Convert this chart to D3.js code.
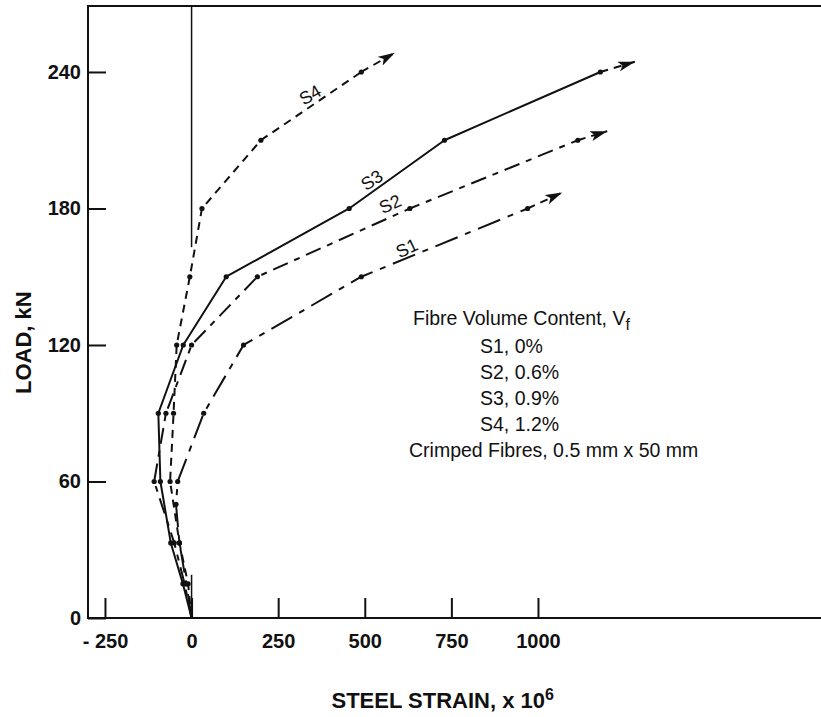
<!DOCTYPE html>
<html>
<head>
<meta charset="utf-8">
<script src="https://cdn.jsdelivr.net/npm/d3@7"></script>
<style>
  body { margin: 0; background: #fff; }
  text { font-family: "Liberation Sans", Arial, sans-serif; fill: #111; }
  .tick text { font-family: "Liberation Sans Narrow", "Liberation Sans", Arial, sans-serif; font-weight: bold; font-size: 20px; }
  .axis-title { font-family: "Liberation Sans Narrow", "Liberation Sans", Arial, sans-serif; font-weight: bold; font-size: 22px; }
  .note { font-size: 19.5px; }
  .series-label { font-size: 18px; }
</style>
</head>
<body>
<svg id="chart"></svg>
<script>
// load vs steel strain
var s1Strain = [0, -15, -35, -45, -40, 35, 150, 490, 970];
var s1Load   = [0, 15, 33, 50, 60, 90, 120, 150, 180];
var s1Tip    = [1070, 187];

var s2Strain = [0, -20, -50, -108, -74, 0, 190, 630, 1115];
var s2Load   = [0, 15, 33, 60, 90, 120, 150, 180, 210];
var s2Tip    = [1200, 214];

var s3Strain = [0, -25, -60, -90, -96, -24, 100, 455, 730, 1180];
var s3Load   = [0, 15, 33, 60, 90, 120, 150, 180, 210, 240];
var s3Tip    = [1280, 244.5];

var s4Strain = [0, -10, -35, -62, -52, -43, -5, 30, 200, 490];
var s4Load   = [0, 15, 33, 60, 90, 120, 150, 180, 210, 240];
var s4Tip    = [587, 248.5];

// the zero strain reference line (drawn in two pieces)
var refUpperLoad = [163, 269];
var refLowerLoad = [0, 19];

var xTicks = [-250, 0, 250, 500, 750, 1000];
var xTickLabels = ['- 250', '0', '250', '500', '750', '1000'];
var yTicks = [0, 60, 120, 180, 240];

var noteLines = ['S1, 0%', 'S2, 0.6%', 'S3, 0.9%', 'S4, 1.2%'];

// layout
var margin = {top: 6, right: 0, bottom: 99, left: 88};
var width = 821 - margin.left - margin.right;
var height = 717 - margin.top - margin.bottom;

var x = d3.scaleLinear().domain([-299, 1817]).range([0, width]);
var y = d3.scaleLinear().domain([0, 269]).range([height, 0]);

var root = d3.select('#chart')
  .attr('width', 821)
  .attr('height', 717);

var svg = root.append('g')
  .attr('transform', 'translate(' + margin.left + ',' + margin.top + ')');

// arrow head
root.append('defs').append('marker')
  .attr('id', 'arrow')
  .attr('markerUnits', 'userSpaceOnUse')
  .attr('markerWidth', 20)
  .attr('markerHeight', 12)
  .attr('refX', 17)
  .attr('refY', 5)
  .attr('orient', 'auto')
  .append('path')
  .attr('d', 'M0,0 L17,5 L0,10 L4,5 Z')
  .style('fill', '#111');

// frame: left, top, bottom
svg.append('path')
  .attr('d', 'M' + width + ',0 H0 V' + height + ' H' + width)
  .style('fill', 'none')
  .style('stroke', '#111')
  .style('stroke-width', 2);

// axes
var xAxis = svg.append('g')
  .attr('transform', 'translate(0,' + height + ')')
  .call(d3.axisBottom(x)
    .tickValues(xTicks)
    .tickFormat(function(d, i) { return xTickLabels[i]; })
    .tickSizeInner(-20)
    .tickSizeOuter(0)
    .tickPadding(16));
var yAxis = svg.append('g')
  .call(d3.axisLeft(y)
    .tickValues(yTicks)
    .tickSizeInner(-18)
    .tickSizeOuter(0)
    .tickPadding(7));
[xAxis, yAxis].forEach(function(a) {
  a.select('.domain').remove();
  a.selectAll('.tick line').style('stroke', '#111').style('stroke-width', 2);
  a.selectAll('.tick text').style('fill', '#111');
  a.attr('font-family', null).attr('font-size', null);
});

// axis titles
svg.append('text')
  .attr('class', 'axis-title')
  .attr('transform', 'translate(-57,' + y(121) + ') rotate(-90)')
  .attr('text-anchor', 'middle')
  .text('LOAD, kN');
var xt = svg.append('text')
  .attr('class', 'axis-title')
  .attr('x', x(725))
  .attr('y', height + 90)
  .attr('text-anchor', 'middle');
xt.append('tspan').text('STEEL STRAIN, x 10');
xt.append('tspan').attr('dy', -8).style('font-size', '16px').text('6');

// zero strain reference
[refUpperLoad, refLowerLoad].forEach(function(r) {
  svg.append('line')
    .attr('x1', x(0)).attr('x2', x(0))
    .attr('y1', y(r[0])).attr('y2', y(r[1]))
    .style('stroke', '#111')
    .style('stroke-width', 1.5);
});

// series
var series = [
  {strain: s1Strain, load: s1Load, tip: s1Tip, dash: '24,8,6,8'},
  {strain: s2Strain, load: s2Load, tip: s2Tip, dash: '16,7,6,7'},
  {strain: s3Strain, load: s3Load, tip: s3Tip, dash: null},
  {strain: s4Strain, load: s4Load, tip: s4Tip, dash: '8,6'}
];

var line = d3.line()
  .x(function(d) { return x(d[0]); })
  .y(function(d) { return y(d[1]); });

series.forEach(function(s) {
  var pts = s.strain.map(function(v, i) { return [v, s.load[i]]; });
  svg.append('path')
    .datum(pts)
    .attr('d', line)
    .style('fill', 'none')
    .style('stroke', '#111')
    .style('stroke-width', 2)
    .style('stroke-linejoin', 'round')
    .style('stroke-dasharray', s.dash);
  // dashed run out to the arrow
  svg.append('path')
    .datum([pts[pts.length - 1], s.tip])
    .attr('d', line)
    .style('fill', 'none')
    .style('stroke', '#111')
    .style('stroke-width', 2)
    .style('stroke-dasharray', '8,6')
    .attr('marker-end', 'url(#arrow)');
  svg.selectAll(null)
    .data(pts.slice(1))
    .enter()
    .append('circle')
    .attr('cx', function(d) { return x(d[0]); })
    .attr('cy', function(d) { return y(d[1]); })
    .attr('r', 2.6)
    .style('fill', '#111');
});

// series labels
var labels = [
  {t: 'S4', sx: 342, ld: 230, rot: -30},
  {t: 'S3', sx: 520, ld: 192.5, rot: -33},
  {t: 'S2', sx: 573, ld: 182, rot: -25},
  {t: 'S1', sx: 621, ld: 162.6, rot: -25}
];
labels.forEach(function(l) {
  svg.append('text')
    .attr('class', 'series-label')
    .attr('text-anchor', 'middle')
    .attr('dy', '0.35em')
    .attr('transform', 'translate(' + x(l.sx) + ',' + y(l.ld) + ') rotate(' + l.rot + ')')
    .text(l.t);
});

// note block
var title = svg.append('text')
  .attr('class', 'note')
  .attr('x', 413 - margin.left)
  .attr('y', 325 - margin.top);
title.append('tspan').text('Fibre Volume Content, V');
title.append('tspan').attr('dy', 5).style('font-size', '16px').text('f');

noteLines.forEach(function(t, i) {
  svg.append('text')
    .attr('class', 'note')
    .attr('x', 480 - margin.left)
    .attr('y', 353 - margin.top + i * 26)
    .text(t);
});
svg.append('text')
  .attr('class', 'note')
  .attr('x', 409 - margin.left)
  .attr('y', 457 - margin.top)
  .text('Crimped Fibres, 0.5 mm x 50 mm');
</script>
</body>
</html>
